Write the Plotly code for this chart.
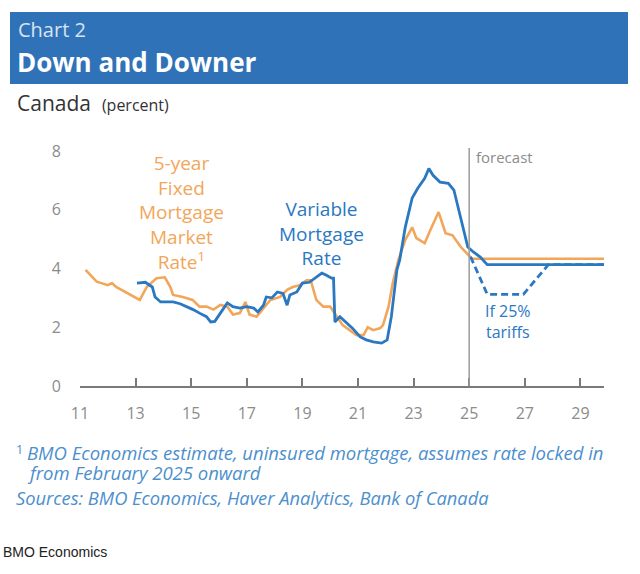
import plotly.graph_objects as go

# ---- data ----
fixed_x = [2011.2, 2011.6, 2012.0, 2012.15, 2012.3, 2012.7, 2013.15, 2013.4, 2013.75, 2014.05,
           2014.25, 2014.35, 2014.7, 2015.05, 2015.3, 2015.55, 2015.8, 2016.05, 2016.3, 2016.5,
           2016.75, 2016.95, 2017.1, 2017.35, 2017.65, 2017.85, 2018.2, 2018.45, 2018.65, 2018.9,
           2019.15, 2019.3, 2019.5, 2019.75, 2020.0, 2020.25, 2020.45, 2020.7, 2020.95, 2021.2,
           2021.35, 2021.55, 2021.8, 2021.9, 2022.1, 2022.25, 2022.45, 2022.7, 2022.95, 2023.1,
           2023.4, 2023.6, 2023.9, 2024.15, 2024.4, 2024.7, 2024.95, 2025.1, 2029.85]
fixed_y = [3.95, 3.55, 3.43, 3.5, 3.37, 3.16, 2.93, 3.37, 3.67, 3.7,
           3.37, 3.1, 3.03, 2.93, 2.7, 2.7, 2.6, 2.76, 2.7, 2.43,
           2.48, 2.86, 2.43, 2.36, 2.7, 2.93, 3.03, 3.27, 3.37, 3.43,
           3.6, 3.6, 2.93, 2.7, 2.7, 2.36, 2.07, 1.9, 1.73, 1.73,
           2.0, 1.9, 1.97, 2.07, 2.7, 3.5, 4.28, 4.97, 5.4, 5.03,
           4.86, 5.3, 5.92, 5.2, 5.13, 4.73, 4.46, 4.33, 4.33]

var_x = [2013.05, 2013.35, 2013.6, 2013.7, 2013.9, 2014.35, 2014.6, 2014.85, 2015.07, 2015.3,
         2015.55, 2015.7, 2015.85, 2016.05, 2016.3, 2016.5, 2016.75, 2017.0, 2017.25, 2017.4,
         2017.6, 2017.7, 2017.9, 2018.1, 2018.3, 2018.45, 2018.55, 2018.8, 2019.0, 2019.25,
         2019.45, 2019.7, 2019.85, 2020.05, 2020.12, 2020.17, 2020.35, 2020.6, 2020.8, 2021.08,
         2021.3, 2021.55, 2021.85, 2022.05, 2022.2, 2022.4, 2022.5, 2022.7, 2022.95, 2023.15,
         2023.4, 2023.55, 2023.7, 2023.95, 2024.25, 2024.45, 2024.6, 2024.8, 2024.95, 2025.15,
         2025.4, 2025.65, 2029.85]
var_y = [3.5, 3.53, 3.37, 3.03, 2.86, 2.86, 2.8, 2.7, 2.6, 2.48,
         2.36, 2.18, 2.2, 2.48, 2.83, 2.7, 2.65, 2.7, 2.65, 2.52,
         2.75, 3.03, 3.0, 3.2, 3.15, 2.75, 3.1, 3.2, 3.5, 3.53,
         3.67, 3.84, 3.78, 3.67, 3.67, 2.18, 2.36, 2.14, 1.97, 1.67,
         1.57, 1.5, 1.46, 1.57, 2.36, 3.95, 4.28, 5.4, 6.4, 6.73,
         7.07, 7.4, 7.17, 6.94, 6.9, 6.67, 6.1, 5.3, 4.73, 4.56,
         4.39, 4.13, 4.13]

tariff_x = [2025.05, 2025.65, 2026.95, 2027.85, 2029.85]
tariff_y = [4.4, 3.12, 3.12, 4.13, 4.13]

tick_vals = [2011, 2013, 2015, 2017, 2019, 2021, 2023, 2025, 2027, 2029]
tick_text = ["11", "13", "15", "17", "19", "21", "23", "25", "27", "29"]
forecast_start = 2025.0

# ---- styling ----
ORANGE = "#F2A65A"
BLUE = "#2A78C2"
NOTE_BLUE = "#4C8FCD"
GRAY = "#8C8C8C"
FONT = "Open Sans"

W, H = 640, 574
L, R, T, B = 80, 36, 148, 188
PW, PH = W - L - R, H - T - B


def px(x):
    return (x - L) / PW


def py(y):
    return (H - B - y) / PH


fig = go.Figure()
fig.add_trace(go.Scatter(x=fixed_x, y=fixed_y, mode="lines",
                         line=dict(color=ORANGE, width=2.6), hoverinfo="skip"))
fig.add_trace(go.Scatter(x=var_x, y=var_y, mode="lines",
                         line=dict(color=BLUE, width=2.8), hoverinfo="skip"))
fig.add_trace(go.Scatter(x=tariff_x, y=tariff_y, mode="lines",
                         line=dict(color=BLUE, width=2.8, dash="7px,4px"), hoverinfo="skip"))

shapes = [
    dict(type="rect", xref="paper", yref="paper", x0=px(10), x1=px(628), y0=py(84), y1=py(12),
         fillcolor="#2F72B7", line=dict(width=0), layer="below"),
    dict(type="line", xref="x", yref="y", x0=forecast_start, x1=forecast_start, y0=0, y1=8.1,
         line=dict(color="#9A9A9A", width=1.5)),
]

annotations = [
    dict(text="Chart 2", x=px(16), y=py(29), font=dict(size=20, color="#D6E4F3", family=FONT)),
    dict(text="<b>Down and Downer</b>", x=px(15), y=py(62), font=dict(size=26, color="white", family=FONT)),
    dict(text="Canada  <span style='font-size:16px'>(percent)</span>", x=px(15), y=py(103),
         font=dict(size=21, color="#333333", family=FONT)),
    dict(text="5-year<br>Fixed<br>Mortgage<br>Market<br>Rate<sup>1</sup>", x=px(181), y=py(212),
         xanchor="center", align="center", font=dict(size=19, color=ORANGE, family=FONT)),
    dict(text="Variable<br>Mortgage<br>Rate", x=px(321), y=py(233), xanchor="center", align="center",
         font=dict(size=19, color=BLUE, family=FONT)),
    dict(text="If 25%<br>tariffs", x=px(508), y=py(321), xanchor="center", align="center",
         font=dict(size=16, color=BLUE, family=FONT)),
    dict(text="forecast", x=px(474), y=py(157), font=dict(size=15, color=GRAY, family=FONT)),
    dict(text="<sup>1</sup>", x=px(14), y=py(449), font=dict(size=18, color=NOTE_BLUE, family=FONT)),
    dict(text="<i>BMO Economics estimate, uninsured mortgage, assumes rate locked in</i>", x=px(25), y=py(452),
         font=dict(size=18.5, color=NOTE_BLUE, family=FONT)),
    dict(text="<i>from February 2025 onward</i>", x=px(25), y=py(472),
         font=dict(size=18.5, color=NOTE_BLUE, family=FONT)),
    dict(text="<i>Sources: BMO Economics, Haver Analytics, Bank of Canada</i>", x=px(14), y=py(497),
         font=dict(size=18.3, color=NOTE_BLUE, family=FONT)),
    dict(text="BMO Economics", x=px(1), y=py(552),
         font=dict(size=14, color="#222222", family="Liberation Sans")),
]
for a in annotations:
    a.setdefault("xref", "paper")
    a.setdefault("yref", "paper")
    a.setdefault("xanchor", "left")
    a.setdefault("yanchor", "middle")
    a.setdefault("showarrow", False)

fig.update_layout(
    width=W, height=H,
    margin=dict(l=L, r=R, t=T, b=B, pad=0),
    paper_bgcolor="white", plot_bgcolor="white",
    showlegend=False,
    shapes=shapes,
    annotations=annotations,
    xaxis=dict(range=[2011, 2029.85], tickvals=tick_vals, ticktext=tick_text,
               showgrid=False, zeroline=False, showline=True, linecolor="#7A7A7A", linewidth=2,
               ticks="inside", ticklen=8, tickwidth=1.5, tickcolor="#7A7A7A",
               tickfont=dict(size=16, color=GRAY, family=FONT), ticklabelstandoff=12,
               fixedrange=True),
    yaxis=dict(range=[0, 8.1], tickvals=[0, 2, 4, 6, 8], showgrid=False, zeroline=False,
               showline=False, ticks="", tickfont=dict(size=16, color=GRAY, family=FONT),
               ticklabelstandoff=18, fixedrange=True),
)

fig.write_html("out.html", config={"displayModeBar": False},
               post_script="document.body.style.margin='0px';")
